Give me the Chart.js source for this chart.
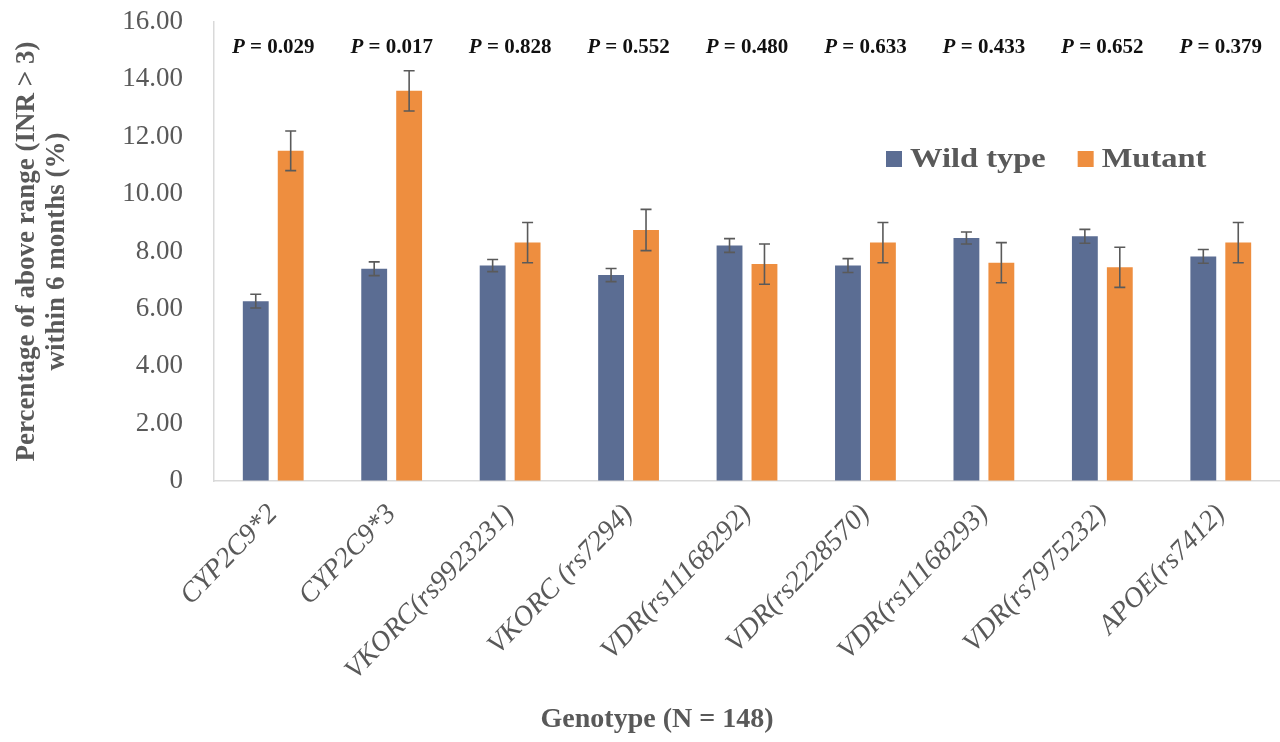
<!DOCTYPE html>
<html>
<head>
<meta charset="utf-8">
<title>INR above range by genotype</title>
<script src="https://cdn.jsdelivr.net/npm/chart.js@4.4.0/dist/chart.umd.min.js"></script>
<style>
  html, body { margin: 0; padding: 0; background: #ffffff; }
  #wrap { width: 1280px; height: 742px; }
</style>
</head>
<body>
<div id="wrap"><canvas id="inrChart" width="1280" height="742"></canvas></div>
<script>
// Genotype groups (x axis)
const genotypes = [
    'CYP2C9*2', 'CYP2C9*3', 'VKORC(rs9923231)', 'VKORC (rs7294)', 'VDR(rs11168292)',
    'VDR(rs2228570)', 'VDR(rs11168293)', 'VDR(rs7975232)', 'APOE(rs7412)'
];

// Percentage of above range (INR > 3) within 6 months
const wildType = [6.27, 7.40, 7.51, 7.18, 8.21, 7.51, 8.47, 8.53, 7.83];
const mutant = [11.51, 13.60, 8.31, 8.75, 7.56, 8.31, 7.61, 7.45, 8.31];

// Error bar half-lengths
const wildTypeErr = [0.24, 0.24, 0.21, 0.23, 0.24, 0.24, 0.21, 0.24, 0.24];
const mutantErr = [0.69, 0.70, 0.70, 0.72, 0.70, 0.70, 0.70, 0.70, 0.70];

// P values shown above each group
const pValues = ['0.029', '0.017', '0.828', '0.552', '0.480', '0.633', '0.433', '0.652', '0.379'];

// Y axis range
const yMin = 0;
const yMax = 16;
const yStep = 2;

const SERIF = "'Liberation Serif', 'Times New Roman', serif";
const GREY = '#595959';
const BLUE = '#5b6d93';
const ORANGE = '#ee8e3f';

// Draw text stretched horizontally
function drawStretched(ctx, text, x, y, sx) {
    ctx.save();
    ctx.translate(x, y);
    ctx.scale(sx, 1);
    ctx.fillText(text, 0, 0);
    ctx.restore();
}

const errorBarPlugin = {
    id: 'errorBars',
    afterDatasetsDraw(chart) {
        const ctx = chart.ctx;
        const yScale = chart.scales.y;
        const errs = [wildTypeErr, mutantErr];
        ctx.save();
        ctx.strokeStyle = '#5a5a5a';
        ctx.lineWidth = 1.6;
        chart.data.datasets.forEach((ds, di) => {
            const meta = chart.getDatasetMeta(di);
            meta.data.forEach((bar, i) => {
                const v = ds.data[i];
                const e = errs[di][i];
                const top = yScale.getPixelForValue(v + e);
                const bot = yScale.getPixelForValue(v - e);
                const x = bar.x;
                ctx.beginPath();
                ctx.moveTo(x, top);
                ctx.lineTo(x, bot);
                ctx.moveTo(x - 5.5, top);
                ctx.lineTo(x + 5.5, top);
                ctx.moveTo(x - 5.5, bot);
                ctx.lineTo(x + 5.5, bot);
                ctx.stroke();
            });
        });
        ctx.restore();
    }
};

const annotationPlugin = {
    id: 'annotations',
    afterDraw(chart) {
        const ctx = chart.ctx;
        const xScale = chart.scales.x;
        const area = chart.chartArea;
        ctx.save();

        // P values above each group
        ctx.fillStyle = '#111111';
        ctx.textBaseline = 'middle';
        pValues.forEach((p, i) => {
            const cx = xScale.getPixelForValue(i);
            const lead = 'P';
            const rest = ' = ' + p;
            ctx.font = 'italic bold 21px ' + SERIF;
            const w1 = ctx.measureText(lead).width;
            ctx.font = 'bold 21px ' + SERIF;
            const w2 = ctx.measureText(rest).width;
            const x = cx - (w1 + w2) / 2;
            ctx.textAlign = 'left';
            ctx.font = 'italic bold 21px ' + SERIF;
            ctx.fillText(lead, x, area.top + 26);
            ctx.font = 'bold 21px ' + SERIF;
            ctx.fillText(rest, x + w1, area.top + 26);
        });

        // Legend
        const legendY = 159;
        let lx = 886;
        ctx.font = 'bold 28px ' + SERIF;
        ctx.textAlign = 'left';
        chart.data.datasets.forEach((ds) => {
            ctx.fillStyle = ds.backgroundColor;
            ctx.fillRect(lx, legendY - 8, 16, 16);
            ctx.fillStyle = GREY;
            drawStretched(ctx, ds.label, lx + 24, legendY + 1, 1.16);
            lx += 24 + ctx.measureText(ds.label).width * 1.16 + 32;
        });

        // X axis title
        ctx.font = 'bold 28px ' + SERIF;
        ctx.textAlign = 'center';
        ctx.fillStyle = GREY;
        ctx.fillText('Genotype (N = 148)', 657, 720);

        ctx.restore();
    }
};

const chart = new Chart(document.getElementById('inrChart'), {
    type: 'bar',
    data: {
        labels: genotypes,
        datasets: [
            {
                label: 'Wild type',
                data: wildType,
                backgroundColor: BLUE,
                categoryPercentage: 0.59,
                barPercentage: 0.74
            },
            {
                label: 'Mutant',
                data: mutant,
                backgroundColor: ORANGE,
                categoryPercentage: 0.59,
                barPercentage: 0.74
            }
        ]
    },
    options: {
        responsive: false,
        animation: false,
        devicePixelRatio: 1,
        layout: { padding: { top: 22, right: 0, bottom: 0, left: 0 } },
        plugins: {
            legend: { display: false },
            tooltip: { enabled: false }
        },
        scales: {
            x: {
                grid: { display: true, drawOnChartArea: false, drawTicks: false },
                border: { display: true, color: '#d9d9d9', width: 1.5 },
                ticks: {
                    color: GREY,
                    font: { family: SERIF, size: 28, style: 'italic' },
                    minRotation: 46,
                    maxRotation: 46,
                    padding: 17,
                    autoSkip: false
                },
                afterFit(scale) {
                    scale.height = 261;
                }
            },
            y: {
                min: yMin,
                max: yMax,
                grid: { display: true, drawOnChartArea: false, drawTicks: false },
                border: { display: true, color: '#d9d9d9', width: 1.5 },
                ticks: {
                    stepSize: yStep,
                    color: GREY,
                    padding: 31,
                    font: { family: SERIF, size: 27 },
                    callback: (v) => (v === 0 ? '0' : v.toFixed(2))
                },
                title: {
                    display: true,
                    text: ['Percentage of above range (INR > 3)', 'within 6 months (%)'],
                    color: GREY,
                    font: { family: SERIF, size: 27, weight: 'bold', lineHeight: 1.1 },
                    padding: { top: 12, bottom: 0 }
                },
                afterFit(scale) {
                    scale.width = 214;
                    // tick padding would otherwise push the plot top down
                    scale.paddingTop = 0;
                    scale.paddingBottom = 0;
                }
            }
        }
    },
    plugins: [errorBarPlugin, annotationPlugin]
});
</script>
</body>
</html>
